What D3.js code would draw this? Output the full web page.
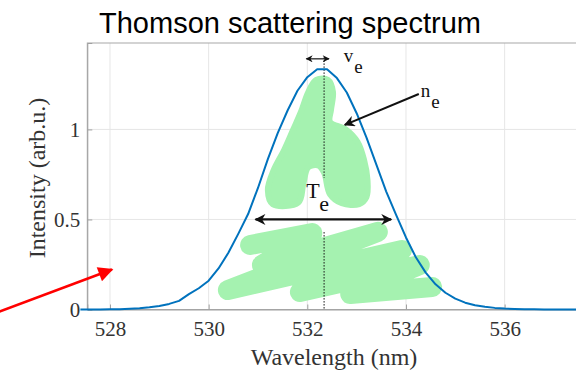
<!DOCTYPE html>
<html>
<head>
<meta charset="utf-8">
<script src="https://cdn.jsdelivr.net/npm/d3@7"></script>
<style>
  html, body { margin: 0; padding: 0; background: #fff; }
  svg { display: block; }
  .serif { font-family: "Liberation Serif", "Times New Roman", serif; }
  .sans { font-family: "Liberation Sans", Arial, sans-serif; }
</style>
</head>
<body>
<script>
// spectrum samples (nm, arb.u.)
const wavelength = [
  527.4, 527.6, 527.8, 528.0, 528.2, 528.4, 528.6, 528.8, 529.0, 529.2,
  529.4, 529.6, 529.8, 530.0, 530.2, 530.4, 530.6, 530.8, 531.0, 531.2,
  531.4, 531.6, 531.8, 532.0, 532.2, 532.4, 532.6, 532.8, 533.0, 533.2,
  533.4, 533.6, 533.8, 534.0, 534.2, 534.4, 534.6, 534.8, 535.0, 535.2,
  535.4, 535.6, 535.8, 536.0, 536.2, 536.4, 536.6, 536.8, 537.0, 537.4,
  537.8, 538.2, 538.6
];
const intensity = [
  0, 0, 0.0005, 0.001, 0.002, 0.004, 0.007, 0.012, 0.019, 0.031,
  0.048, 0.085, 0.118, 0.16, 0.228, 0.315, 0.42, 0.53, 0.675, 0.835,
  0.98, 1.105, 1.215, 1.29, 1.334, 1.334, 1.285, 1.205, 1.09, 0.955,
  0.805, 0.655, 0.525, 0.40, 0.29, 0.205, 0.14, 0.093, 0.06, 0.038,
  0.024, 0.015, 0.009, 0.005, 0.003, 0.0015, 0.0008, 0.0004, 0, 0,
  0, 0, 0
];

const xTicks = [528, 530, 532, 534, 536];
const yTicks = [0, 0.5, 1];
const yTickLabels = ['0', '0.5', '1'];

const title = 'Thomson scattering spectrum';
const xLabel = 'Wavelength (nm)';
const yLabel = 'Intensity (arb.u.)';

// annotation geometry, in data units (nm, arb.u.)
const centerLine = 532.34;
const blobUpper = [
  [532.18, 1.275], [532.42, 1.275], [532.52, 1.208], [532.48, 1.108], [532.46, 1.042],
  [532.78, 1.000], [533.02, 0.930], [533.15, 0.831], [533.22, 0.719], [533.20, 0.625],
  [533.05, 0.585], [532.70, 0.590], [532.46, 0.640], [532.34, 0.760], [532.22, 0.800],
  [532.02, 0.790], [531.92, 0.700], [531.82, 0.595], [531.30, 0.585], [531.20, 0.664],
  [531.32, 0.775], [531.53, 0.886], [531.71, 0.997], [531.87, 1.097], [532.02, 1.208]
];
const scribbleLower = [
  [530.84, 0.358], [532.10, 0.425], [531.08, 0.247], [533.43, 0.431], [530.39, 0.108],
  [533.92, 0.331], [531.85, 0.097], [534.28, 0.247], [532.87, 0.086], [534.53, 0.125]
];

const width = 576;
const height = 374;
const margin = { top: 43, left: 87.3, bottom: 64.5 };

const x = d3.scaleLinear()
  .domain([527.54, 538.5])
  .range([margin.left, margin.left + 10.96 * 49.33]);
const y = d3.scaleLinear()
  .domain([0, 1.48])
  .range([height - margin.bottom, margin.top]);

const svg = d3.select('body').append('svg')
  .attr('width', width)
  .attr('height', height)
  .attr('viewBox', [0, 0, width, height])
  .style('background', '#fff');

const defs = svg.append('defs');
const marker = (id, color, w, h) => defs.append('marker')
  .attr('id', id)
  .attr('viewBox', '0 0 10 10')
  .attr('refX', 9)
  .attr('refY', 5)
  .attr('markerUnits', 'userSpaceOnUse')
  .attr('markerWidth', w)
  .attr('markerHeight', h)
  .attr('orient', 'auto-start-reverse')
  .append('path')
  .attr('d', 'M0,0 L10,5 L0,10 L3,5 Z')
  .attr('fill', color);
marker('blk', '#111', 13, 11);
marker('blkSmall', '#111', 8, 7);
defs.append('marker')
  .attr('id', 'red')
  .attr('viewBox', '0 0 10 10')
  .attr('refX', 9)
  .attr('refY', 5)
  .attr('markerUnits', 'userSpaceOnUse')
  .attr('markerWidth', 18)
  .attr('markerHeight', 15)
  .attr('orient', 'auto')
  .append('path')
  .attr('d', 'M0,0 L10,5 L0,10 Z')
  .attr('fill', '#ff0000');

// grid
const grid = svg.append('g').attr('stroke', '#e6e6e6').attr('stroke-width', 1);
grid.selectAll('line.v').data(xTicks).join('line')
  .attr('class', 'v')
  .attr('x1', (d) => x(d)).attr('x2', (d) => x(d))
  .attr('y1', y.range()[0]).attr('y2', y.range()[1]);
grid.selectAll('line.h').data(yTicks.slice(1)).join('line')
  .attr('class', 'h')
  .attr('x1', x.range()[0]).attr('x2', x.range()[1])
  .attr('y1', (d) => y(d)).attr('y2', (d) => y(d));

// green scribbles
const green = '#a5f2b0';
svg.append('path')
  .attr('d', d3.line().x((d) => x(d[0])).y((d) => y(d[1]))
    .curve(d3.curveCatmullRomClosed.alpha(0.5))(blobUpper))
  .attr('fill', green)
  .attr('stroke', green)
  .attr('stroke-width', 6)
  .attr('stroke-linejoin', 'round');
svg.append('path')
  .attr('d', d3.line().x((d) => x(d[0])).y((d) => y(d[1]))(scribbleLower))
  .attr('fill', 'none')
  .attr('stroke', green)
  .attr('stroke-width', 20)
  .attr('stroke-linecap', 'round')
  .attr('stroke-linejoin', 'round');

// frame
svg.append('rect')
  .attr('x', x.range()[0])
  .attr('y', y.range()[1])
  .attr('width', x.range()[1] - x.range()[0])
  .attr('height', y.range()[0] - y.range()[1])
  .attr('fill', 'none')
  .attr('stroke', '#a8a8a8')
  .attr('stroke-width', 1);

// axes
const xAxis = svg.append('g')
  .attr('transform', `translate(0,${y(0)})`)
  .call(d3.axisBottom(x).tickValues(xTicks).tickSize(-5).tickPadding(12).tickFormat(d3.format('d')));
const yAxis = svg.append('g')
  .attr('transform', `translate(${x.range()[0]},0)`)
  .call(d3.axisLeft(y).tickValues(yTicks).tickSize(-5).tickPadding(7)
    .tickFormat((d, i) => yTickLabels[i]));
[xAxis, yAxis].forEach((g) => {
  g.attr('font-family', null).attr('font-size', null);
  g.select('.domain').attr('stroke', '#a0a0a0');
  g.selectAll('.tick line').attr('stroke', '#a0a0a0');
  g.selectAll('.tick text')
    .attr('class', 'serif')
    .attr('fill', '#333')
    .style('font-size', '21px');
});

// dotted centre line
const dotted = svg.append('g')
  .attr('stroke', '#111')
  .attr('stroke-width', 1)
  .attr('stroke-dasharray', '1.5,1.5');
dotted.append('line')
  .attr('x1', x(centerLine)).attr('x2', x(centerLine))
  .attr('y1', y(1.40)).attr('y2', y(0.73));
dotted.append('line')
  .attr('x1', x(centerLine)).attr('x2', x(centerLine))
  .attr('y1', y(0.43)).attr('y2', y(0));

// spectrum
svg.append('path')
  .datum(d3.zip(wavelength, intensity))
  .attr('fill', 'none')
  .attr('stroke', '#0072bd')
  .attr('stroke-width', 2)
  .attr('stroke-linejoin', 'round')
  .attr('d', d3.line().x((d) => x(d[0])).y((d) => y(d[1])));

// arrows
const arrow = (x1, y1, x2, y2, color, w, head, both) => svg.append('line')
  .attr('x1', x(x1)).attr('y1', y(y1))
  .attr('x2', x(x2)).attr('y2', y(y2))
  .attr('stroke', color)
  .attr('stroke-width', w)
  .attr('marker-end', `url(#${head})`)
  .attr('marker-start', both ? `url(#${head})` : null);
arrow(531.98, 1.392, 532.44, 1.392, '#111', 1.2, 'blkSmall', true);
arrow(534.26, 1.197, 532.76, 1.025, '#111', 2, 'blk', false);
arrow(530.95, 0.50, 533.70, 0.50, '#111', 2.2, 'blk', true);
arrow(525.75, -0.013, 528.04, 0.222, '#ff0000', 2.6, 'red', false);

// annotation labels
const subLabel = (lx, ly, main, sub, size) => {
  const t = svg.append('text')
    .attr('class', 'serif')
    .attr('x', x(lx)).attr('y', y(ly))
    .style('font-size', `${size}px`)
    .attr('fill', '#111');
  t.append('tspan').text(main);
  t.append('tspan').attr('dy', size * 0.6).attr('dx', 1).text(sub);
};
subLabel(532.74, 1.375, 'v', 'e', 19);
subLabel(534.30, 1.18, 'n', 'e', 19);
subLabel(531.98, 0.62, 'T', 'e', 22);

// titles
svg.append('text')
  .attr('class', 'sans')
  .attr('x', 290).attr('y', 33)
  .attr('text-anchor', 'middle')
  .style('font-size', '29px')
  .attr('fill', '#000')
  .text(title);
svg.append('text')
  .attr('class', 'serif')
  .attr('x', 334).attr('y', 365)
  .attr('text-anchor', 'middle')
  .style('font-size', '24px')
  .attr('fill', '#333')
  .text(xLabel);
svg.append('text')
  .attr('class', 'serif')
  .attr('transform', 'translate(45,178) rotate(-90)')
  .attr('text-anchor', 'middle')
  .style('font-size', '24px')
  .attr('fill', '#333')
  .text(yLabel);
</script>
</body>
</html>
